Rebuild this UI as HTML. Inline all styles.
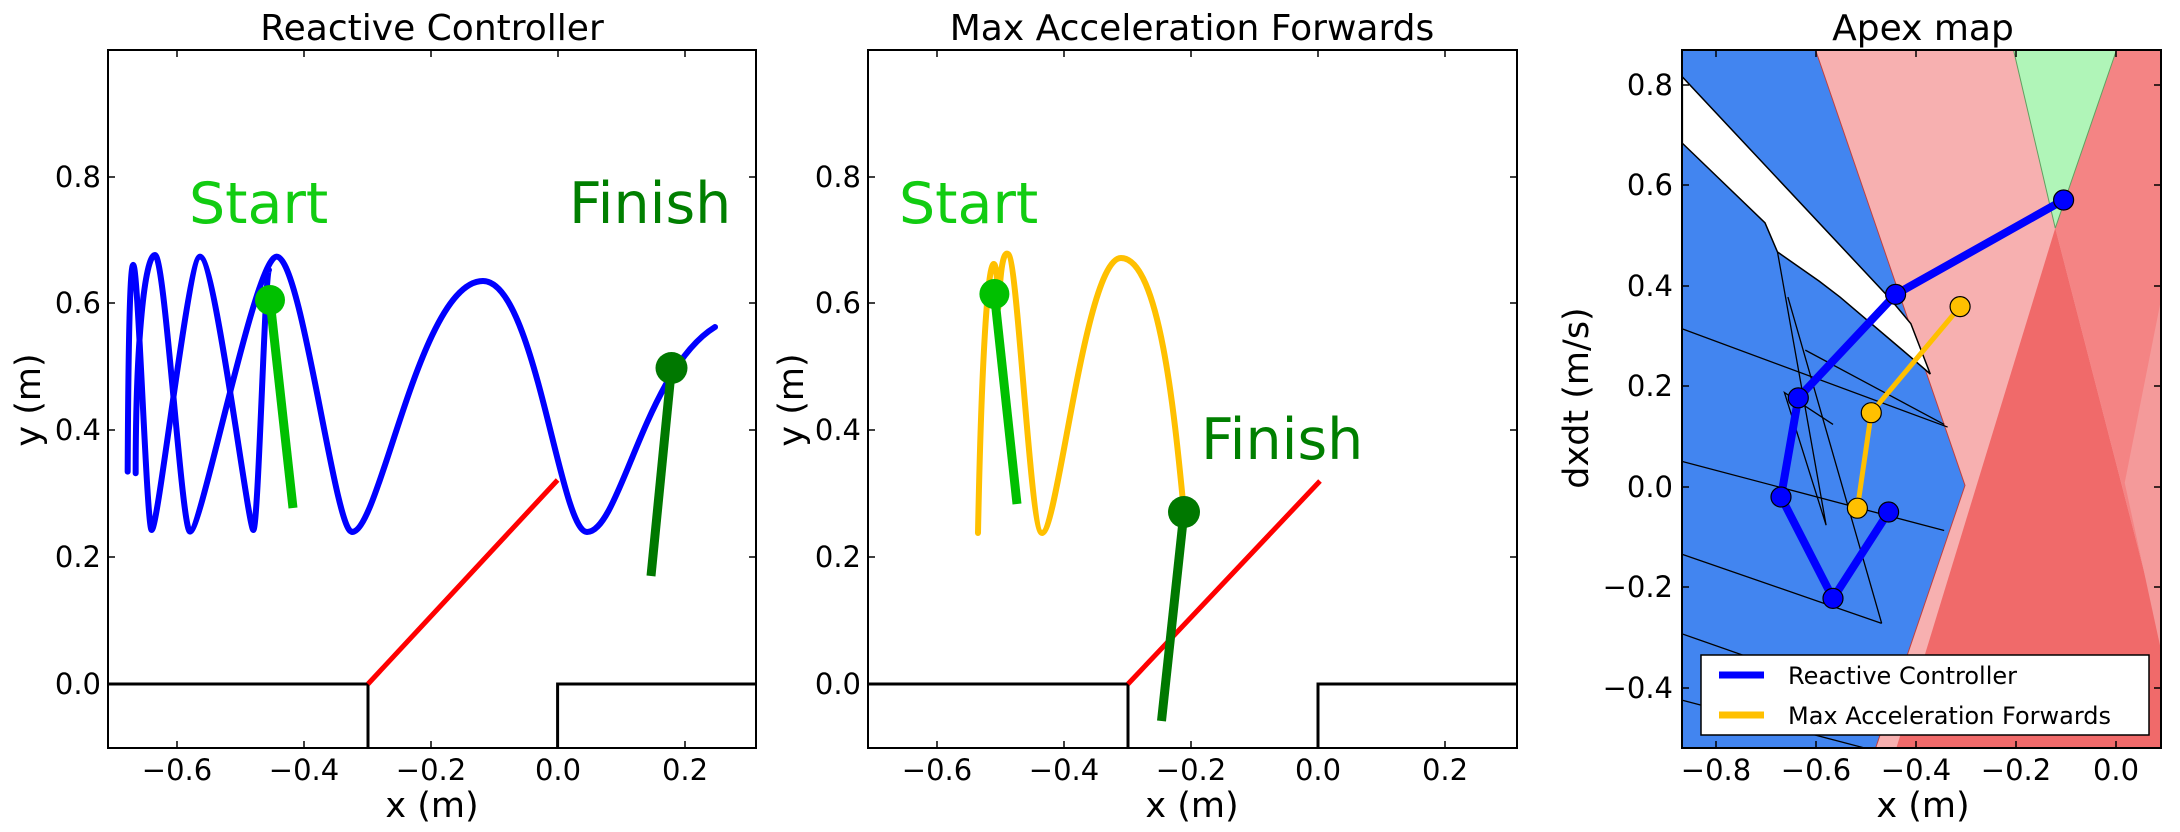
<!DOCTYPE html>
<html><head><meta charset="utf-8"><style>
html,body{margin:0;padding:0;background:#fff;}
svg{display:block;}
text{font-family:"DejaVu Sans","Liberation Sans",sans-serif;fill:#000;}
.ns{vector-effect:non-scaling-stroke;}
</style></head><body>
<svg width="2180" height="832" viewBox="0 0 2180 832" xmlns="http://www.w3.org/2000/svg">
<defs>
<clipPath id="c1"><rect x="108" y="50" width="648" height="698"/></clipPath>
<clipPath id="c2"><rect x="868" y="50" width="649" height="698"/></clipPath>
<clipPath id="c3"><rect x="1682" y="50" width="479" height="698"/></clipPath>
</defs>

<!-- Titles -->
<text x="432" y="40" font-size="36" text-anchor="middle">Reactive Controller</text>
<text x="1192" y="40" font-size="36" text-anchor="middle">Max Acceleration Forwards</text>
<text x="1923" y="40" font-size="36" text-anchor="middle">Apex map</text>

<!-- ============ Panel 1 ============ -->
<g clip-path="url(#c1)">
  <path d="M108,684 L368,684 L368,748 M557.6,748 L557.6,684 L756,684" fill="none" stroke="#000" stroke-width="3"/>
  <line x1="368" y1="684" x2="557.6" y2="480" stroke="#ff0000" stroke-width="5"/>
  <g transform="translate(115,240) scale(0.3333)" fill="none" stroke="#0000ff" stroke-width="6" stroke-linecap="round" stroke-linejoin="round">
    <path class="ns" d="M38,695 C40,300 45,70 55,75 C70,80 95,870 110,870 C130,870 220,50 255,50 C300,50 400,870 415,870 C430,870 450,90 462,90"/>
    <path class="ns" d="M62,700 C62,300 90,45 120,45 C150,45 200,875 225,875 C260,875 420,50 485,50 C560,50 660,875 710,875"/>
  </g>
  <path d="M352,532 C380,532 420,281 483,281 C535,281 560,532 587,532 C620,532 645,370 715,327" fill="none" stroke="#0000ff" stroke-width="6" stroke-linecap="round"/>
  <line x1="270" y1="300" x2="293" y2="508" stroke="#00c000" stroke-width="9"/>
  <circle cx="270" cy="300" r="15" fill="#00c000"/>
  <line x1="671.5" y1="368" x2="651" y2="576" stroke="#007800" stroke-width="9"/>
  <circle cx="671.5" cy="368" r="16" fill="#007800"/>
</g>
<text x="189" y="223" font-size="57" style="fill:#11cc11">Start</text>
<text x="569" y="223" font-size="57" style="fill:#007f00">Finish</text>
<rect x="108" y="50" width="648" height="698" fill="none" stroke="#000" stroke-width="2"/>
<g stroke="#000" stroke-width="1.5">
  <path d="M177,748v-7M304,748v-7M431,748v-7M558,748v-7M685,748v-7 M177,50v7M304,50v7M431,50v7M558,50v7M685,50v7"/>
  <path d="M108,684h7M108,557h7M108,430h7M108,303h7M108,177h7 M756,684h-7M756,557h-7M756,430h-7M756,303h-7M756,177h-7"/>
</g>
<g font-size="29" text-anchor="middle">
  <text x="177" y="780">−0.6</text><text x="304" y="780">−0.4</text><text x="431" y="780">−0.2</text><text x="558" y="780">0.0</text><text x="685" y="780">0.2</text>
</g>
<g font-size="29" text-anchor="end">
  <text x="101" y="694">0.0</text><text x="101" y="567">0.2</text><text x="101" y="440">0.4</text><text x="101" y="313">0.6</text><text x="101" y="187">0.8</text>
</g>
<text x="432" y="817" font-size="35" text-anchor="middle">x (m)</text>
<text transform="translate(40,400) rotate(-90)" font-size="35" text-anchor="middle">y (m)</text>

<!-- ============ Panel 2 ============ -->
<g clip-path="url(#c2)">
  <path d="M868,684 L1128,684 L1128,748 M1318,748 L1318,684 L1517,684" fill="none" stroke="#000" stroke-width="3"/>
  <line x1="1128" y1="684" x2="1320" y2="481" stroke="#ff0000" stroke-width="5"/>
  <path d="M978,533 C981,380 987,262 994,264 C999,266 997,330 999,300 C1001,262 1004,252 1008,254 C1018,258 1030,533 1042,533 C1058,533 1085,258 1121,258 C1160,258 1175,420 1184,512" fill="none" stroke="#ffc000" stroke-width="6" stroke-linecap="round"/>
  <line x1="994.4" y1="294" x2="1017" y2="504" stroke="#00c000" stroke-width="9"/>
  <circle cx="994.4" cy="294" r="15" fill="#00c000"/>
  <line x1="1184" y1="512" x2="1161.5" y2="721" stroke="#007800" stroke-width="9"/>
  <circle cx="1184" cy="512" r="16" fill="#007800"/>
</g>
<text x="899" y="223" font-size="57" style="fill:#11cc11">Start</text>
<text x="1201" y="459" font-size="57" style="fill:#007f00">Finish</text>
<rect x="868" y="50" width="649" height="698" fill="none" stroke="#000" stroke-width="2"/>
<g stroke="#000" stroke-width="1.5">
  <path d="M937,748v-7M1064,748v-7M1191,748v-7M1318,748v-7M1445,748v-7 M937,50v7M1064,50v7M1191,50v7M1318,50v7M1445,50v7"/>
  <path d="M868,684h7M868,557h7M868,430h7M868,303h7M868,177h7 M1517,684h-7M1517,557h-7M1517,430h-7M1517,303h-7M1517,177h-7"/>
</g>
<g font-size="29" text-anchor="middle">
  <text x="937" y="780">−0.6</text><text x="1064" y="780">−0.4</text><text x="1191" y="780">−0.2</text><text x="1318" y="780">0.0</text><text x="1445" y="780">0.2</text>
</g>
<g font-size="29" text-anchor="end">
  <text x="861" y="694">0.0</text><text x="861" y="567">0.2</text><text x="861" y="440">0.4</text><text x="861" y="313">0.6</text><text x="861" y="187">0.8</text>
</g>
<text x="1192" y="817" font-size="35" text-anchor="middle">x (m)</text>
<text transform="translate(803,400) rotate(-90)" font-size="35" text-anchor="middle">y (m)</text>

<!-- ============ Panel 3 ============ -->
<g clip-path="url(#c3)">
  <g transform="translate(1090,0) scale(0.69444,0.53050)">
    <rect x="853" y="95" width="700" height="1320" fill="#f7b0b0"/>
    <polygon points="1390,430 1560,1290 1560,1415 1160,1415" fill="#f06a6a"/>
    <polygon points="1330,95 1478,95 1390,430" fill="#b0f5b8"/>
    <polygon points="1478,95 1560,95 1560,1290 1390,430" fill="#f48484"/>
    <polygon points="1543,560 1490,910 1543,1230" fill="#f49a9a"/>
    <polygon points="853,95 1045,95 1260,915 1130,1415 853,1415" fill="#4285f0"/>
    <path class="ns" d="M1045,95 L1260,915 L1130,1415" stroke="#c04040" stroke-width="1" fill="none"/>
    <polygon points="853,145 1150,560 1182,610 1210,705 1170,660 1080,560 1050,530 990,475 972,420 853,270" fill="#fff" stroke="#000" stroke-width="1.5" class="ns"/>
    <g stroke="#000" stroke-width="1.3" fill="none">
      <path class="ns" d="M853,620 L1235,805"/>
      <path class="ns" d="M853,870 L1230,1000"/>
      <path class="ns" d="M853,1045 L1140,1175"/>
      <path class="ns" d="M853,1195 L1060,1290"/>
      <path class="ns" d="M853,1320 L1130,1415"/>
      <path class="ns" d="M990,475 L1060,990 L1000,740 L1070,800"/>
      <path class="ns" d="M1005,560 L1140,1175"/>
      <path class="ns" d="M1030,660 L1230,800"/>
    </g>
    <path class="ns" d="M1330,95 L1390,430 M1478,95 L1390,430" stroke="#60a060" stroke-width="1" fill="none"/>
  </g>
  <polyline points="1888.6,512 1833,598.4 1781,497 1798.3,397.9 1895.6,294.4 2063.6,200" fill="none" stroke="#0000ff" stroke-width="8" stroke-linejoin="round"/>
  <polyline points="1857.4,508.2 1871.3,412.7 1960.1,306.6" fill="none" stroke="#ffc000" stroke-width="5"/>
  <g fill="#0000ff" stroke="#000" stroke-width="1.2">
    <circle cx="1888.6" cy="512" r="10"/><circle cx="1833" cy="598.4" r="10"/><circle cx="1781" cy="497" r="10"/>
    <circle cx="1798.3" cy="397.9" r="10"/><circle cx="1895.6" cy="294.4" r="10"/><circle cx="2063.6" cy="200" r="10"/>
  </g>
  <g fill="#ffc000" stroke="#000" stroke-width="1.2">
    <circle cx="1857.4" cy="508.2" r="10"/><circle cx="1871.3" cy="412.7" r="10"/><circle cx="1960.1" cy="306.6" r="10"/>
  </g>
</g>
<rect x="1682" y="50" width="479" height="698" fill="none" stroke="#000" stroke-width="2"/>
<g stroke="#000" stroke-width="1.5">
  <path d="M1716,748v-7M1816,748v-7M1916,748v-7M2016,748v-7M2116,748v-7 M1716,50v7M1816,50v7M1916,50v7M2016,50v7M2116,50v7"/>
  <path d="M1682,85h7M1682,185h7M1682,286h7M1682,386h7M1682,487h7M1682,587h7M1682,688h7 M2161,85h-7M2161,185h-7M2161,286h-7M2161,386h-7M2161,487h-7M2161,587h-7M2161,688h-7"/>
</g>
<!-- Legend -->
<rect x="1701" y="655" width="448" height="80" fill="#fff" stroke="#000" stroke-width="1.5"/>
<line x1="1719" y1="675" x2="1764" y2="675" stroke="#0000ff" stroke-width="7"/>
<line x1="1719" y1="715" x2="1764" y2="715" stroke="#ffc000" stroke-width="7"/>
<text x="1788" y="684" font-size="24">Reactive Controller</text>
<text x="1788" y="724" font-size="24">Max Acceleration Forwards</text>
<g font-size="29" text-anchor="middle">
  <text x="1716" y="780">−0.8</text><text x="1816" y="780">−0.6</text><text x="1916" y="780">−0.4</text><text x="2016" y="780">−0.2</text><text x="2116" y="780">0.0</text>
</g>
<g font-size="29" text-anchor="end">
  <text x="1673" y="95">0.8</text><text x="1673" y="195">0.6</text><text x="1673" y="296">0.4</text><text x="1673" y="396">0.2</text><text x="1673" y="497">0.0</text><text x="1673" y="597">−0.2</text><text x="1673" y="698">−0.4</text>
</g>
<text x="1923" y="817" font-size="35" text-anchor="middle">x (m)</text>
<text transform="translate(1588,398) rotate(-90)" font-size="35" text-anchor="middle">dxdt (m/s)</text>
</svg>
</body></html>
